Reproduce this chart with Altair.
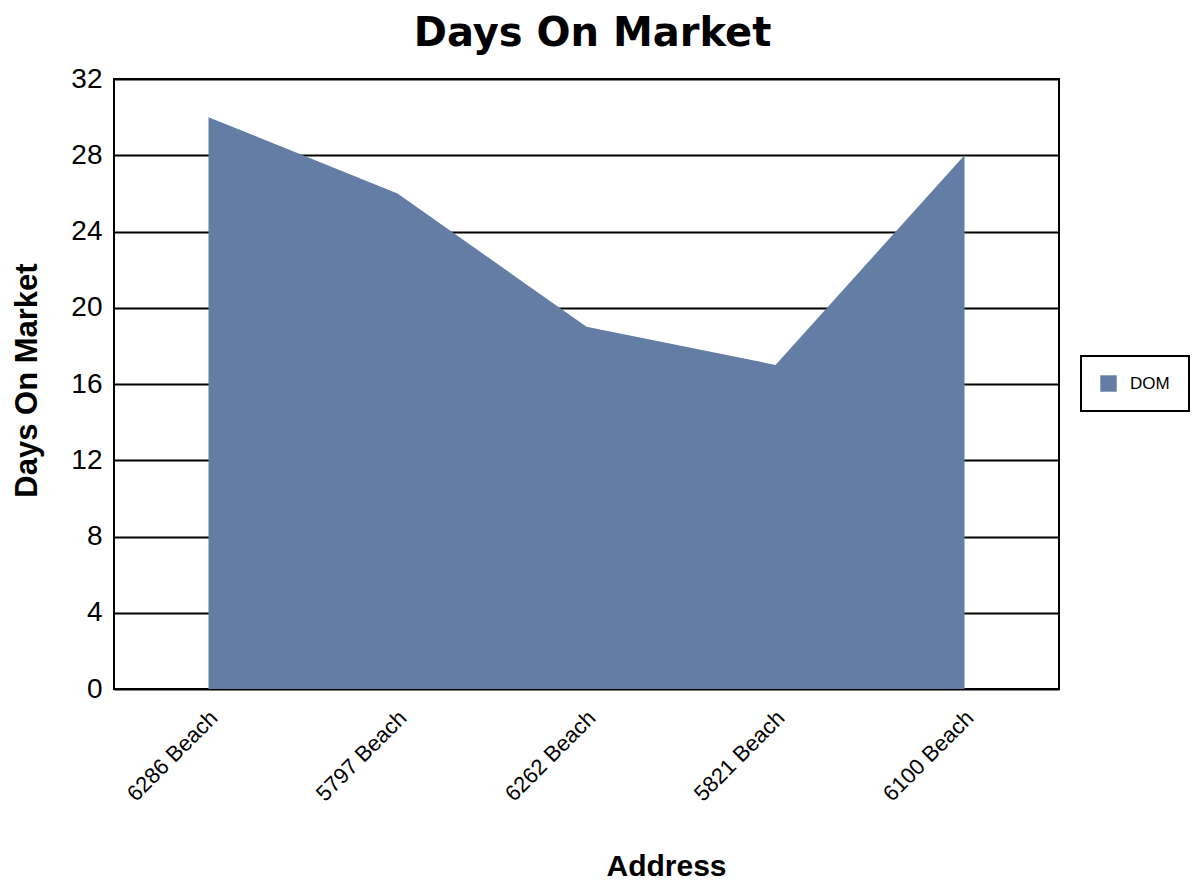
import altair as alt
import pandas as pd

addresses = ["6286 Beach", "5797 Beach", "6262 Beach", "5821 Beach", "6100 Beach"]
dom_values = [30, 26, 19, 17, 28]
series_name = "DOM"

df = pd.DataFrame({"Address": addresses, "DOM": dom_values, "Series": [series_name] * len(addresses)})

chart = (
    alt.Chart(df)
    .mark_area(color="#647da5", opacity=1, line=False)
    .encode(
        x=alt.X(
            "Address:N",
            sort=addresses,
            scale=alt.Scale(type="point", padding=0.5),
            axis=alt.Axis(
                title="Address",
                titleFont="Liberation Sans",
                titleFontSize=30,
                titleFontWeight="bold",
                titleColor="black",
                titleX=552,
                titleY=186,
                titleBaseline="alphabetic",
                titleAlign="center",
                labelAngle=-45,
                labelAlign="right",
                labelBaseline="middle",
                labelFont="Liberation Sans",
                labelFontSize=22,
                labelColor="black",
                labelPadding=25,
                labelOffset=5,
                ticks=False,
                domain=False,
                grid=False,
            ),
        ),
        y=alt.Y(
            "DOM:Q",
            scale=alt.Scale(domain=[0, 32], nice=False),
            axis=alt.Axis(
                title="Days On Market",
                titleFont="Liberation Sans",
                titleFontSize=31,
                titleFontWeight="bold",
                titleColor="black",
                titleX=-87,
                titleY=301,
                titleBaseline="middle",
                titleAlign="center",
                titleAngle=-90,
                values=[0, 4, 8, 12, 16, 20, 24, 28, 32],
                labelFont="Liberation Sans",
                labelFontSize=28,
                labelColor="black",
                labelPadding=12,
                ticks=False,
                domain=False,
                grid=True,
                gridColor="black",
                gridWidth=2,
                gridOpacity=1,
            ),
        ),
        color=alt.Color(
            "Series:N",
            scale=alt.Scale(domain=[series_name], range=["#647da5"]),
            legend=alt.Legend(
                title=None,
                orient="none",
                legendX=967,
                legendY=277,
                symbolType="square",
                symbolSize=270,
                symbolStrokeWidth=0,
                labelFont="Liberation Sans",
                labelFontSize=17,
                labelColor="black",
                labelOffset=13,
                padding=19,
                strokeColor="black",
                fillColor="white",
            ),
        ),
    )
    .properties(
        width=945,
        height=610,
        background="white",
        title=alt.TitleParams(
            "Days On Market",
            font="DejaVu Sans",
            fontSize=40,
            fontWeight="bold",
            color="black",
            anchor="middle",
            frame="group",
            offset=11,
            dx=6,
        ),
        padding={"left": 106, "top": 71, "right": 132, "bottom": 191},
        autosize=alt.AutoSizeParams(type="none"),
    )
    .configure_view(stroke="black", strokeWidth=2)
    .configure_legend(strokeWidth=2)
)

chart.save("out.html", embed_options={"renderer": "svg", "actions": False})
